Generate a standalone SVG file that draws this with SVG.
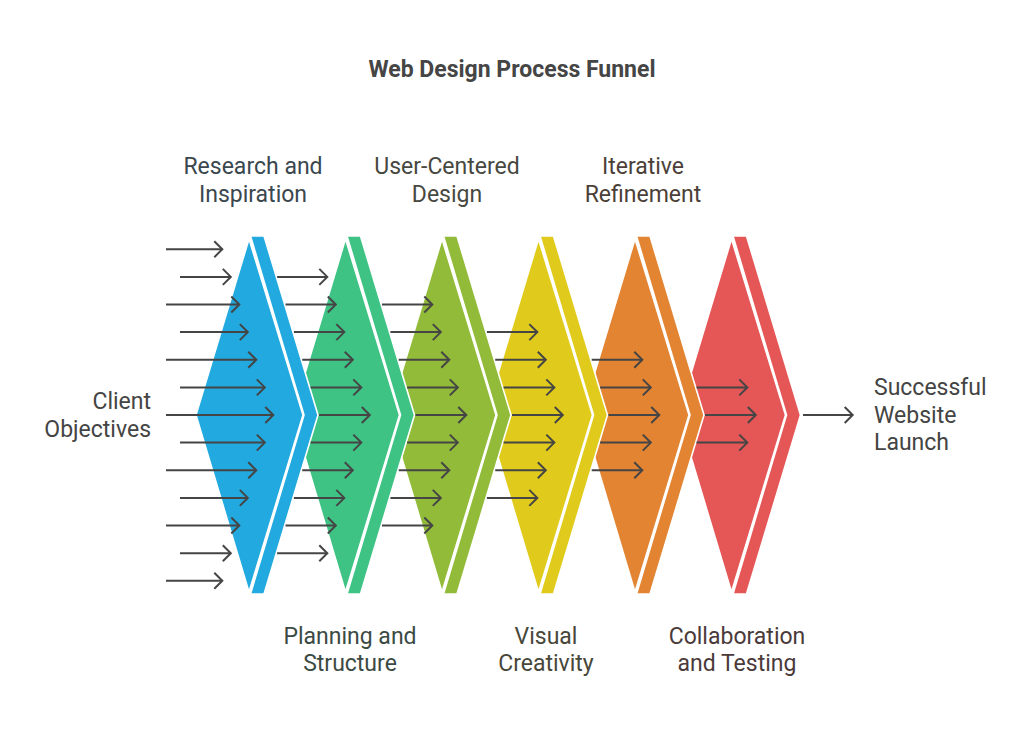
<svg xmlns="http://www.w3.org/2000/svg" width="1024" height="734" viewBox="0 0 1024 734">
<defs>
<style>
.body,.strip{stroke:#fff;stroke-width:1.6;stroke-linejoin:round}
.lbl{font-family:Roboto,"Liberation Sans",sans-serif;font-size:23px;fill:#444}
.title{font-family:Roboto,"Liberation Sans",sans-serif;font-size:23px;font-weight:bold;fill:#454545}
.arr{fill:none;stroke:#454545;stroke-width:2;marker-end:url(#ah)}
</style>
<marker id="ah" viewBox="-10 -10 12 20" refX="0" refY="0" markerWidth="12" markerHeight="20" markerUnits="userSpaceOnUse" orient="auto">
<path d="M-8,-8 L0,0 L-8,8" fill="none" stroke="#454545" stroke-width="2" stroke-linejoin="miter"/>
</marker>
</defs>
<rect width="1024" height="734" fill="#fff"/>
<text class="title" x="512" y="77" text-anchor="middle">Web Design Process Funnel</text>

<g id="stage-collaboration">
<path class="body" fill="#E55757" d="M731.5,239 L785.5,415 L731.5,592 L678.5,415 Z"/>
<path class="strip" fill="#E55757" d="M733,236 L746.5,236 L800.5,415 L746.5,594 L733,594 L786.5,415 Z"/>
<text class="lbl" x="737" y="643.5" text-anchor="middle" style="fill:#4b3a3a">Collaboration</text>
<text class="lbl" x="737" y="671" text-anchor="middle" style="fill:#4b3a3a">and Testing</text>
</g>
<g id="stage-refinement">
<path class="body" fill="#E28432" d="M635,239 L689,415 L635,592 L582,415 Z"/>
<path class="strip" fill="#E28432" d="M636.5,236 L650,236 L704,415 L650,594 L636.5,594 L690,415 Z"/>
<text class="lbl" x="643" y="174" text-anchor="middle" style="fill:#4b3f38">Iterative</text>
<text class="lbl" x="643" y="201.5" text-anchor="middle" style="fill:#4b3f38">Refinement</text>
</g>
<g id="stage-visual">
<path class="body" fill="#E0CB1C" d="M538.5,239 L592.5,415 L538.5,592 L485.5,415 Z"/>
<path class="strip" fill="#E0CB1C" d="M540,236 L553.5,236 L607.5,415 L553.5,594 L540,594 L593.5,415 Z"/>
<text class="lbl" x="546" y="643.5" text-anchor="middle" style="fill:#48473a">Visual</text>
<text class="lbl" x="546" y="671" text-anchor="middle" style="fill:#48473a">Creativity</text>
</g>
<g id="stage-user-centered">
<path class="body" fill="#92BB3A" d="M442,239 L496,415 L442,592 L389,415 Z"/>
<path class="strip" fill="#92BB3A" d="M443.5,236 L457,236 L511,415 L457,594 L443.5,594 L497,415 Z"/>
<text class="lbl" x="447" y="174" text-anchor="middle" style="fill:#47483f">User-Centered</text>
<text class="lbl" x="447" y="201.5" text-anchor="middle" style="fill:#47483f">Design</text>
</g>
<g id="stage-planning">
<path class="body" fill="#3FC385" d="M345.5,239 L399.5,415 L345.5,592 L292.5,415 Z"/>
<path class="strip" fill="#3FC385" d="M347,236 L360.5,236 L414.5,415 L360.5,594 L347,594 L400.5,415 Z"/>
<text class="lbl" x="350" y="643.5" text-anchor="middle" style="fill:#3c4a44">Planning and</text>
<text class="lbl" x="350" y="671" text-anchor="middle" style="fill:#3c4a44">Structure</text>
</g>
<g id="stage-research">
<path class="body" fill="#22A9DF" d="M249,239 L303,415 L249,592 L196,415 Z"/>
<path class="strip" fill="#22A9DF" d="M250.5,236 L264,236 L318,415 L264,594 L250.5,594 L304,415 Z"/>
<text class="lbl" x="253" y="174" text-anchor="middle" style="fill:#3a474e">Research and</text>
<text class="lbl" x="253" y="201.5" text-anchor="middle" style="fill:#3a474e">Inspiration</text>
</g>

<g id="client-objectives">
<text class="lbl" x="151" y="409" text-anchor="end">Client</text>
<text class="lbl" x="151" y="436.5" text-anchor="end">Objectives</text>
</g>
<g id="successful-launch">
<text class="lbl" x="874" y="395">Successful</text>
<text class="lbl" x="874" y="422.5">Website</text>
<text class="lbl" x="874" y="450">Launch</text>
</g>

<g id="connectors">
<path class="arr" d="M166,249.2 H222.3"/>
<path class="arr" d="M180,276.9 H230.8"/>
<path class="arr" d="M166,304.5 H239.3"/>
<path class="arr" d="M180,332.1 H247.8"/>
<path class="arr" d="M166,359.7 H256.3"/>
<path class="arr" d="M180,387.4 H264.8"/>
<path class="arr" d="M166,415 H273.3"/>
<path class="arr" d="M180,442.6 H264.8"/>
<path class="arr" d="M166,470.3 H256.3"/>
<path class="arr" d="M180,497.9 H247.8"/>
<path class="arr" d="M166,525.5 H239.3"/>
<path class="arr" d="M180,553.2 H230.8"/>
<path class="arr" d="M166,580.8 H222.3"/>

<path class="arr" d="M277.1,276.9 H327.3"/>
<path class="arr" d="M285.5,304.5 H335.8"/>
<path class="arr" d="M293.9,332.1 H344.3"/>
<path class="arr" d="M302.2,359.7 H352.8"/>
<path class="arr" d="M310.6,387.4 H361.3"/>
<path class="arr" d="M319,415 H369.8"/>
<path class="arr" d="M310.6,442.6 H361.3"/>
<path class="arr" d="M302.2,470.3 H352.8"/>
<path class="arr" d="M293.9,497.9 H344.3"/>
<path class="arr" d="M285.5,525.5 H335.8"/>
<path class="arr" d="M277.1,553.2 H327.3"/>

<path class="arr" d="M382,304.5 H432.3"/>
<path class="arr" d="M390.4,332.1 H440.8"/>
<path class="arr" d="M398.7,359.7 H449.3"/>
<path class="arr" d="M407.1,387.4 H457.8"/>
<path class="arr" d="M415.5,415 H466.3"/>
<path class="arr" d="M407.1,442.6 H457.8"/>
<path class="arr" d="M398.7,470.3 H449.3"/>
<path class="arr" d="M390.4,497.9 H440.8"/>
<path class="arr" d="M382,525.5 H432.3"/>

<path class="arr" d="M486.9,332.1 H537.3"/>
<path class="arr" d="M495.2,359.7 H545.8"/>
<path class="arr" d="M503.6,387.4 H554.3"/>
<path class="arr" d="M512,415 H562.8"/>
<path class="arr" d="M503.6,442.6 H554.3"/>
<path class="arr" d="M495.2,470.3 H545.8"/>
<path class="arr" d="M486.9,497.9 H537.3"/>

<path class="arr" d="M591.7,359.7 H642.3"/>
<path class="arr" d="M600.1,387.4 H650.8"/>
<path class="arr" d="M608.5,415 H659.3"/>
<path class="arr" d="M600.1,442.6 H650.8"/>
<path class="arr" d="M591.7,470.3 H642.3"/>

<path class="arr" d="M696.6,387.4 H747.3"/>
<path class="arr" d="M705,415 H755.8"/>
<path class="arr" d="M696.6,442.6 H747.3"/>

<path class="arr" d="M803,415 H852.7"/>
</g>
</svg>
